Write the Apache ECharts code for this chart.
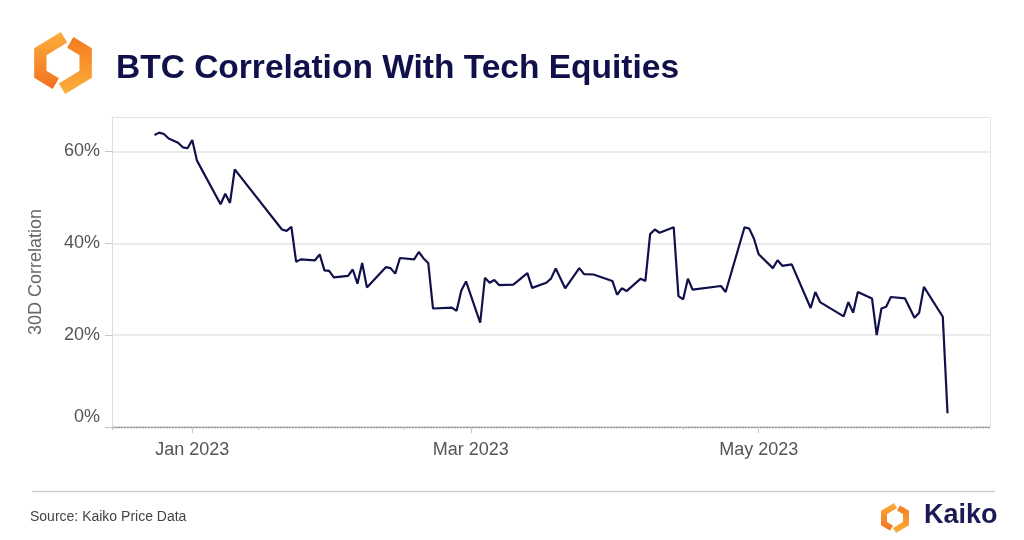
<!DOCTYPE html>
<html>
<head>
<meta charset="utf-8">
<script src="https://cdn.jsdelivr.net/npm/echarts@6/dist/echarts.min.js"></script>
<style>
html,body{margin:0;padding:0;background:#fff}
#chart{width:1024px;height:540px}
</style>
</head>
<body>
<div id="chart"></div>
<script>
// 30D correlation (percent)
var dates = [
  '2022-12-24','2022-12-25','2022-12-26','2022-12-27','2022-12-29','2022-12-30','2022-12-31',
  '2023-01-01','2023-01-02','2023-01-07','2023-01-08','2023-01-09','2023-01-10','2023-01-20',
  '2023-01-21','2023-01-22','2023-01-23','2023-01-24','2023-01-27','2023-01-28','2023-01-29',
  '2023-01-30','2023-01-31','2023-02-03','2023-02-04','2023-02-05','2023-02-06','2023-02-07',
  '2023-02-11','2023-02-12','2023-02-13','2023-02-14','2023-02-17','2023-02-18','2023-02-19',
  '2023-02-20','2023-02-21','2023-02-25','2023-02-26','2023-02-27','2023-02-28','2023-03-03',
  '2023-03-04','2023-03-05','2023-03-06','2023-03-07','2023-03-10','2023-03-11','2023-03-13',
  '2023-03-14','2023-03-17','2023-03-18','2023-03-19','2023-03-21','2023-03-24','2023-03-25',
  '2023-03-27','2023-03-31','2023-04-01','2023-04-02','2023-04-03','2023-04-06','2023-04-07',
  '2023-04-08','2023-04-09','2023-04-10','2023-04-13','2023-04-14','2023-04-15','2023-04-16',
  '2023-04-17','2023-04-23','2023-04-24','2023-04-28','2023-04-29','2023-04-30','2023-05-01',
  '2023-05-04','2023-05-05','2023-05-06','2023-05-08','2023-05-12','2023-05-13','2023-05-14',
  '2023-05-19','2023-05-20','2023-05-21','2023-05-22','2023-05-25','2023-05-26','2023-05-27',
  '2023-05-28','2023-05-29','2023-06-01','2023-06-03','2023-06-04','2023-06-05','2023-06-09',
  '2023-06-10'
];
var corr = [
  63.6,64.1,63.8,62.8,61.9,60.9,60.7,
  62.5,58.0,48.5,50.8,48.8,56.1,43.0,
  42.7,43.6,36.0,36.5,36.3,37.6,34.1,
  34.0,32.6,32.9,34.3,31.2,35.7,30.4,
  34.8,34.6,33.4,36.8,36.5,38.1,36.7,
  35.7,25.8,26.0,25.3,29.7,31.7,22.7,
  32.5,31.4,32.0,30.9,31.0,31.8,33.5,
  30.3,31.4,32.3,34.5,30.2,34.6,33.3,
  33.2,31.8,28.8,30.2,29.6,32.3,31.8,
  42.0,43.0,42.3,43.5,28.5,27.8,32.3,
  29.9,30.7,29.4,43.5,43.2,41.0,37.6,
  34.6,36.3,35.1,35.4,25.9,29.4,27.2,
  24.1,27.2,24.9,29.4,28.0,20.0,25.8,
  26.2,28.3,28.0,23.8,24.9,30.5,24.0,
  3.0
];
var majorTicks = ['2023-01-01','2023-03-01','2023-05-01'];
var minorTicks = ['2022-12-15','2023-01-15','2023-02-15','2023-03-15','2023-04-15','2023-05-15','2023-06-15'];
var yTicks = [0, 20, 40, 60];
var months = ['Jan','Feb','Mar','Apr','May','Jun','Jul','Aug','Sep','Oct','Nov','Dec'];

function ts(s){ return new Date(s + 'T00:00:00').getTime(); }

var xMin = ts('2022-12-15');
var xMax = ts('2023-06-19');
var navy = '#10104a';
var frame = '#e4e4e4';

var lineData = [];
for (var i = 0; i < dates.length; i++) {
  lineData.push([ts(dates[i]), corr[i]]);
}

// kaiko mark: two thick chevrons with a yellow/orange fade
function logo(cx, cy, s){
  function pts(list){
    return list.map(function(p){ return [cx + p[0]*s, cy + p[1]*s]; });
  }
  return [
    {
      type:'polyline',
      shape:{points:pts([[1,-25],[-22,-11],[-22,11],[-7,20]])},
      style:{
        fill:null, lineWidth:12*s, lineJoin:'miter', lineCap:'butt',
        stroke:new echarts.graphic.LinearGradient(0,0,0,1,[{offset:0,color:'#fbb03b'},{offset:1,color:'#f26f21'}])
      }
    },
    {
      type:'polyline',
      shape:{points:pts([[-1,25],[22,11],[22,-11],[7,-20]])},
      style:{
        fill:null, lineWidth:12*s, lineJoin:'miter', lineCap:'butt',
        stroke:new echarts.graphic.LinearGradient(0,0,0,1,[{offset:0,color:'#f47a20'},{offset:1,color:'#fbb03b'}])
      }
    }
  ];
}

var graphics = [].concat(logo(63, 63, 1.03), logo(895, 518, 0.5), [
  {type:'line', shape:{x1:32, y1:491.5, x2:995, y2:491.5}, style:{stroke:'#cccccc', lineWidth:1.5}},
  {type:'text', left:30, top:510, style:{text:'Source: Kaiko Price Data', fontSize:14, fill:'#444', fontFamily:'Liberation Sans, Arial, sans-serif'}},
  {type:'text', left:924, top:502, style:{text:'Kaiko', fontSize:27, fontWeight:'bold', fill:'#1b1a55', fontFamily:'Liberation Sans, Arial, sans-serif'}}
]);

var option = {
  animation:false,
  backgroundColor:'#fff',
  textStyle:{fontFamily:'Liberation Sans, Arial, sans-serif'},
  title:{
    text:'BTC Correlation With Tech Equities',
    left:111, top:47,
    textStyle:{fontSize:33.5, fontWeight:'bold', color:navy, fontFamily:'Liberation Sans, Arial, sans-serif'}
  },
  grid:{left:112, right:34, top:117, bottom:113},
  xAxis:[
    {
      type:'value', min:xMin, max:xMax,
      axisLine:{show:true, lineStyle:{color:'#9a9a9a', type:[1.5,1.5], width:1.3}},
      axisTick:{show:true, customValues:majorTicks.map(ts), length:6, lineStyle:{color:'#c8c8c8'}},
      axisLabel:{
        customValues:majorTicks.map(ts), margin:14, fontSize:18, color:'#555',
        formatter:function(v){ var d = new Date(v); return months[d.getMonth()] + ' ' + d.getFullYear(); }
      },
      splitLine:{show:false}
    },
    {
      type:'value', min:xMin, max:xMax, position:'bottom',
      axisLine:{show:false},
      axisTick:{show:true, customValues:minorTicks.map(ts), length:3, lineStyle:{color:'#c8c8c8'}},
      axisLabel:{show:false},
      splitLine:{show:false}
    },
    {
      type:'value', min:xMin, max:xMax, position:'top',
      axisLine:{show:true, lineStyle:{color:frame}},
      axisTick:{show:false}, axisLabel:{show:false}, splitLine:{show:false}
    }
  ],
  yAxis:[
    {
      type:'value', min:0, max:67.5, interval:20,
      name:'30D Correlation', nameLocation:'middle', nameGap:67,
      nameTextStyle:{fontSize:18, color:'#666'},
      axisLine:{show:true, lineStyle:{color:'#dddddd'}},
      axisTick:{show:true, customValues:yTicks, length:7, lineStyle:{color:'#c8c8c8'}},
      axisLabel:{
        customValues:yTicks, margin:12, fontSize:18, color:'#555',
        formatter:function(v){ return v === 0 ? '{z|0%}' : v + '%'; },
        rich:{z:{fontSize:18, color:'#555', padding:[0,0,19,0]}}
      },
      splitLine:{show:true, lineStyle:{color:frame, width:1.5}}
    },
    {
      type:'value', min:0, max:67.5, position:'right',
      axisLine:{show:true, lineStyle:{color:frame}},
      axisTick:{show:false}, axisLabel:{show:false}, splitLine:{show:false}
    }
  ],
  series:[{
    type:'line',
    data:lineData,
    showSymbol:false,
    lineStyle:{color:navy, width:2.2},
    z:5
  }],
  graphic:graphics
};

var chart = echarts.init(document.getElementById('chart'));
chart.setOption(option);
</script>
</body>
</html>
